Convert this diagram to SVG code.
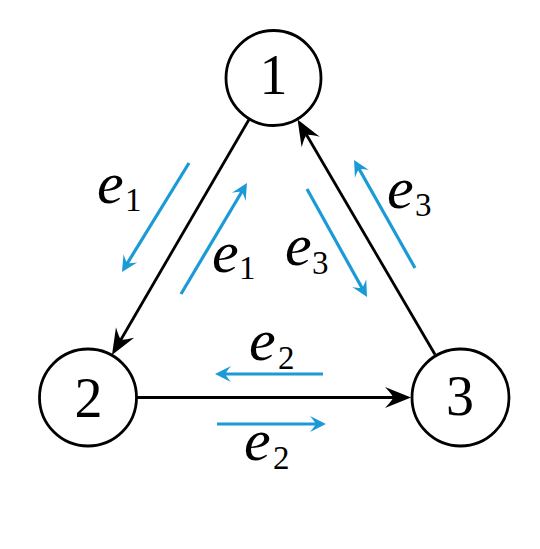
<svg xmlns="http://www.w3.org/2000/svg" width="540" height="549" viewBox="0 0 540 549">
<defs>
<style>
.node{fill:#fff;stroke:#000;stroke-width:2.8}
.num{font-family:"Liberation Serif",serif;font-size:56px;text-anchor:middle;fill:#000}
.e{font-family:"Liberation Serif",serif;font-style:italic;font-size:60px;fill:#000}
.sub{font-family:"Liberation Serif",serif;font-size:33px;fill:#000}
.edge{stroke:#000;stroke-width:2.8;fill:none;marker-end:url(#ah)}
.flow{stroke:#1b9ad6;stroke-width:3.2;fill:none;marker-end:url(#bh)}
</style>
<marker id="ah" markerUnits="userSpaceOnUse" viewBox="-28 -13 30 26" refX="-9" refY="0" markerWidth="30" markerHeight="26" orient="auto">
<path d="M0,0 L-26,-10.5 Q-18,-2 -18,0 Q-18,2 -26,10.5 Z" fill="#000"/>
</marker>
<marker id="bh" markerUnits="userSpaceOnUse" viewBox="-18 -10 20 20" refX="-6" refY="0" markerWidth="20" markerHeight="20" orient="auto">
<path d="M0,0 L-16,-8 Q-10.5,-1.5 -10.5,0 Q-10.5,1.5 -16,8 Z" fill="#1b9ad6"/>
</marker>
</defs>
<rect width="540" height="549" fill="#fff"/>
<g id="connectors">
<line class="edge" x1="249" y1="119.5" x2="116.5" y2="347.2"/>
<line class="edge" x1="136.5" y1="397.5" x2="402" y2="397.5"/>
<line class="edge" x1="435" y1="354.5" x2="302.1" y2="127.3"/>
<line class="flow" x1="189" y1="163" x2="125.1" y2="266.9"/>
<line class="flow" x1="181" y1="294" x2="243.9" y2="188.2"/>
<line class="flow" x1="307" y1="189" x2="364.1" y2="291.8"/>
<line class="flow" x1="415" y1="268" x2="357" y2="165.2"/>
<line class="flow" x1="323" y1="374" x2="221" y2="374"/>
<line class="flow" x1="217" y1="424" x2="320" y2="424"/>
</g>
<g id="labels">
<text class="e" x="97" y="203">e</text><text class="sub" x="125" y="211">1</text>
<text class="e" x="212" y="272">e</text><text class="sub" x="239" y="279">1</text>
<text class="e" x="387" y="208">e</text><text class="sub" x="415" y="216">3</text>
<text class="e" x="285" y="265">e</text><text class="sub" x="312" y="274">3</text>
<text class="e" x="249" y="360">e</text><text class="sub" x="278" y="369">2</text>
<text class="e" x="244" y="460">e</text><text class="sub" x="273" y="469">2</text>
</g>
<g id="node1"><circle class="node" cx="273.5" cy="78" r="47.5"/><text class="num" x="273.5" y="94">1</text></g>
<g id="node2"><circle class="node" cx="88" cy="397.5" r="48.5"/><text class="num" x="88.5" y="417">2</text></g>
<g id="node3"><circle class="node" cx="460.5" cy="397.5" r="48.5"/><text class="num" x="460" y="415">3</text></g>
</svg>
